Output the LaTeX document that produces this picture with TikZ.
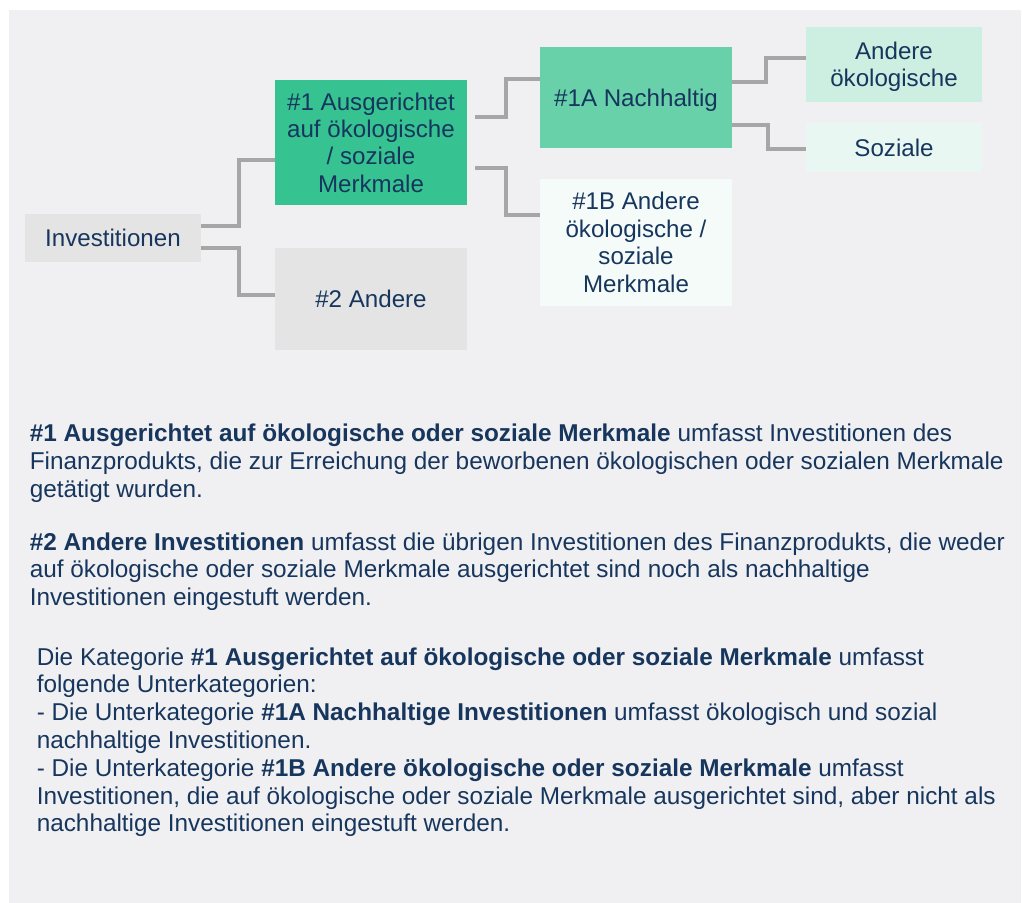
\documentclass[tikz,border=0pt]{standalone}
\usepackage{fontspec}
\setmainfont{Liberation Sans}
\definecolor{txt}{HTML}{17365D}
\definecolor{panelbg}{HTML}{F0F0F2}
\definecolor{conncol}{HTML}{A6A6A6}
\definecolor{graybox}{HTML}{E4E4E4}
\definecolor{greenA}{HTML}{37C391}
\definecolor{greenB}{HTML}{68D1AA}
\definecolor{mintA}{HTML}{CDEFE1}
\definecolor{mintB}{HTML}{E9F7F2}
\definecolor{mintC}{HTML}{F5FBF9}
\begin{document}
\begin{tikzpicture}[x=0.75pt,y=-0.75pt,
  box/.style={inner sep=0pt, align=center, text=txt,
    font=\fontsize{18.1}{20.6}\selectfont, text depth=0pt, minimum width=144pt},
  link/.style={draw=conncol, line width=3pt},
  bodyline/.style={anchor=base west, inner sep=0pt, text=txt,
    font=\fontsize{18.25}{20.8}\selectfont}]
\useasboundingbox (0,0) rectangle (1022,903);
\fill[white] (0,0) rectangle (1022,903);
\fill[panelbg] (9,10) rectangle (1021,903);

% boxes
\node[box, fill=graybox, minimum width=132pt, minimum height=36pt] (inv) at (113,238) {Investitionen};
\node[box, fill=greenA, minimum height=93.75pt] (n1) at (371,142.5) {\#1 Ausgerichtet\\auf ökologische\\/ soziale\\Merkmale};
\node[box, fill=graybox, minimum height=76.5pt] (n2) at (371,299) {\#2 Andere};
\node[box, fill=greenB, minimum height=76.2pt] (n1a) at (636,97.5) {\#1A Nachhaltig};
\node[box, fill=mintC, minimum height=95pt] (n1b) at (636,242.3) {\#1B Andere\\ökologische /\\soziale\\Merkmale};
\node[box, fill=mintA, minimum width=132pt, minimum height=56pt] (ao) at (894,64.3) {Andere\\ökologische};
\node[box, fill=mintB, minimum width=132pt, minimum height=36.3pt] (soz) at (894,147.5) {Soziale};

% connectors
\draw[link] ([yshift=9pt]inv.east) -| ([xshift=-27pt,yshift=-13.1pt]n1.west) -- ([yshift=-13.1pt]n1.west);
\draw[link] ([yshift=-7.5pt]inv.east) -| ([xshift=-27pt,yshift=3pt]n2.west) -- ([yshift=3pt]n2.west);
\draw[link] ([xshift=6pt,yshift=19.1pt]n1.east) -| ([xshift=-25.5pt,yshift=14.25pt]n1a.west) -- ([yshift=14.25pt]n1a.west);
\draw[link] ([xshift=6pt,yshift=-19.35pt]n1.east) -| ([xshift=-25.1pt,yshift=20.7pt]n1b.west) -- ([yshift=20.7pt]n1b.west);
\draw[link] ([yshift=11.6pt]n1a.east) -| ([xshift=-30pt,yshift=4.7pt]ao.west) -- ([yshift=4.7pt]ao.west);
\draw[link] ([yshift=-20.6pt]n1a.east) -| ([xshift=-28.5pt,yshift=-1.1pt]soz.west) -- ([yshift=-1.1pt]soz.west);

% body text
\node[bodyline] (p1a) at (29.5,441.7) {\textbf{\#1 Ausgerichtet auf ökologische oder soziale Merkmale} umfasst Investitionen des};
\node[bodyline] (p1b) at (29.5,469.3) {Finanzprodukts, die zur Erreichung der beworbenen ökologischen oder sozialen Merkmale};
\node[bodyline] (p1c) at (29.5,497) {getätigt wurden.};

\node[bodyline] (p2a) at (29.5,550) {\textbf{\#2 Andere Investitionen} umfasst die übrigen Investitionen des Finanzprodukts, die weder};
\node[bodyline] (p2b) at (29.5,577.5) {auf ökologische oder soziale Merkmale ausgerichtet sind noch als nachhaltige};
\node[bodyline] (p2c) at (29.5,605) {Investitionen eingestuft werden.};

\node[bodyline] (p3a) at (36.5,665) {Die Kategorie \textbf{\#1 Ausgerichtet auf ökologische oder soziale Merkmale} umfasst};
\node[bodyline] (p3b) at (36.5,692.8) {folgende Unterkategorien:};
\node[bodyline] (p3c) at (36.5,720.6) {- Die Unterkategorie \textbf{\#1A Nachhaltige Investitionen} umfasst ökologisch und sozial};
\node[bodyline] (p3d) at (36.5,748.4) {nachhaltige Investitionen.};
\node[bodyline] (p3e) at (36.5,776.2) {- Die Unterkategorie \textbf{\#1B Andere ökologische oder soziale Merkmale} umfasst};
\node[bodyline] (p3f) at (36.5,804) {Investitionen, die auf ökologische oder soziale Merkmale ausgerichtet sind, aber nicht als};
\node[bodyline] (p3g) at (36.5,831.8) {nachhaltige Investitionen eingestuft werden.};
\end{tikzpicture}
\end{document}
